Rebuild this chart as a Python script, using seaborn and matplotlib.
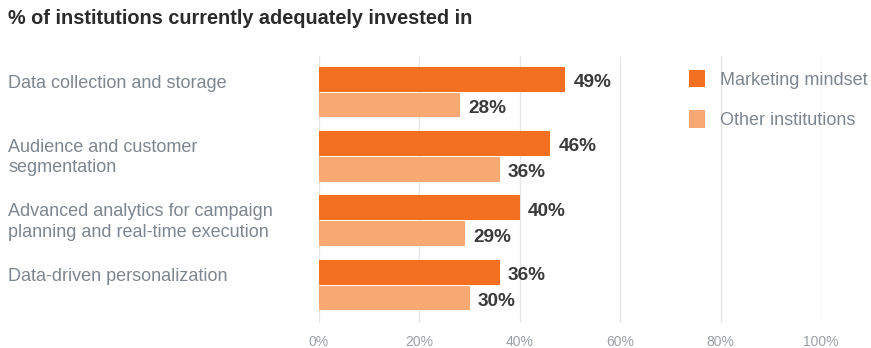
import matplotlib
matplotlib.use("Agg")
import matplotlib.pyplot as plt
import matplotlib.transforms as mtransforms
import seaborn as sns
import pandas as pd

categories = [
    "Data collection and storage",
    "Audience and customer\nsegmentation",
    "Advanced analytics for campaign\nplanning and real-time execution",
    "Data-driven personalization",
]
series_names = ["Marketing mindset", "Other institutions"]
marketing_mindset = [49, 46, 40, 36]
other_institutions = [28, 36, 29, 30]
x_ticks = [0, 20, 40, 60, 80, 100]
x_tick_labels = ["0%", "20%", "40%", "60%", "80%", "100%"]
title = "% of institutions currently adequately invested in"

colors = ["#F37021", "#F8A873"]
label_gray = "#7D868F"
value_dark = "#3A3A3A"

df = pd.DataFrame({
    "category": categories * 2,
    "group": [series_names[0]] * 4 + [series_names[1]] * 4,
    "value": marketing_mindset + other_institutions,
})

sns.set_theme(style="white")
plt.rcParams["font.family"] = ["Liberation Sans", "DejaVu Sans"]

W, H = 871, 348
fig = plt.figure(figsize=(W / 100, H / 100), dpi=100)
ax = fig.add_axes([319 / W, 1 - 323 / H, (821 - 319) / W, (323 - 56) / H])

sns.barplot(data=df, y="category", x="value", hue="group", orient="h",
            palette=colors, width=0.8, gap=0.04, ax=ax, saturation=1,
            linewidth=0, legend=True)

ax.set_xlim(0, 100)
ax.set_ylim(3.59, -0.56)
ax.set_xticks(x_ticks)
ax.set_xticklabels(x_tick_labels, color="#9AA0A6", fontsize=10)
ax.tick_params(axis="x", length=0, pad=9)
ax.set_yticks([])
ax.set_xlabel("")
ax.set_ylabel("")
for s in ax.spines.values():
    s.set_visible(False)
ax.grid(axis="x", color="#E6E6E6", linewidth=1)
ax.set_axisbelow(True)

for cont, vals in zip(ax.containers, [marketing_mindset, other_institutions]):
    texts = ax.bar_label(cont, labels=[f"{v}%" for v in vals], padding=6,
                         fontsize=13.7, fontweight="bold", color=value_dark)
    for t in texts:
        t.xyann = (6, -2.5)

# category labels
trans = mtransforms.blended_transform_factory(fig.transFigure, ax.transData)
for i, cat in enumerate(categories):
    ax.text(8 / W, i - 0.27, cat, transform=trans, ha="left", va="top",
            fontsize=13, color=label_gray, linespacing=1.25)

# legend
handles, labels = ax.get_legend_handles_labels()
ax.legend(handles, labels, loc="upper left",
          bbox_to_anchor=(689 / W, 1 - 70 / H), bbox_transform=fig.transFigure,
          frameon=False, fontsize=13, handlelength=0.9, handleheight=1.1,
          handletextpad=0.8, labelspacing=1.2, borderpad=0, borderaxespad=0,
          labelcolor=label_gray)

fig.text(8 / W, 1 - 19 / H, title, ha="left", va="center", fontsize=14.3,
         fontweight="bold", color="#2B2B2B")

fig.savefig("out.png", dpi=100)
